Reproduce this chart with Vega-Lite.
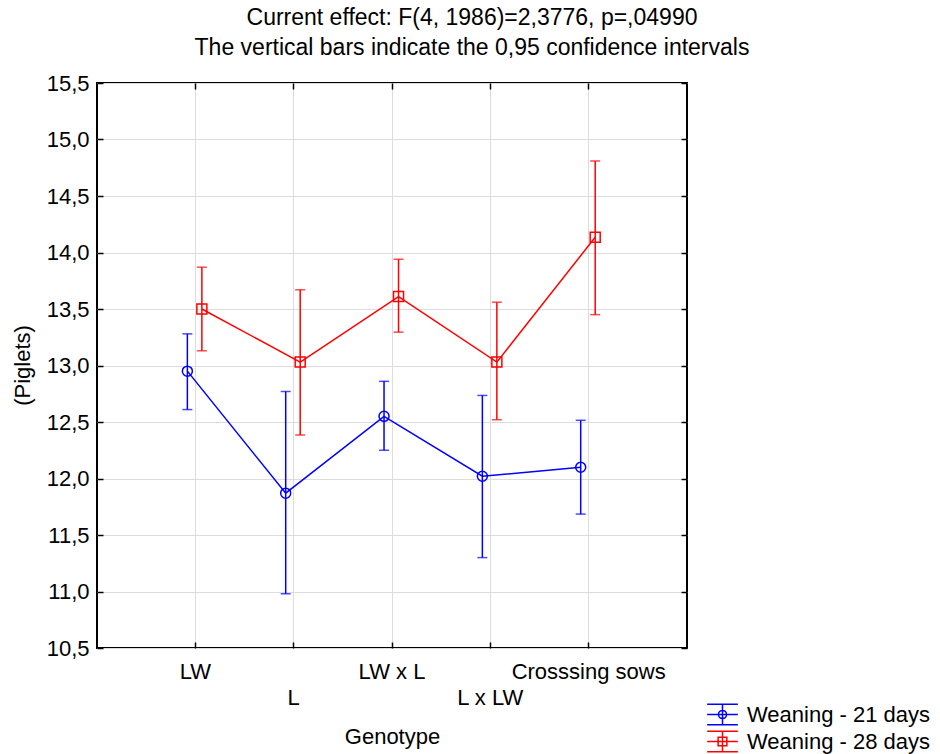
{
  "$schema": "https://vega.github.io/schema/vega-lite/v6.json",
  "autosize": "none",
  "width": 590,
  "height": 565,
  "padding": {"left": 97, "top": 83, "right": 253, "bottom": 106},
  "background": "white",
  "title": {
    "text": ["Current effect: F(4, 1986)=2,3776, p=,04990", "The vertical bars indicate the 0,95 confidence intervals"],
    "fontSize": 23,
    "fontWeight": "normal",
    "color": "black",
    "anchor": "middle",
    "dx": 80,
    "lineHeight": 30,
    "offset": 12
  },
  "data": {
    "values": [
      {"genotype": "LW", "series": "Weaning - 21 days", "mean": 12.95, "lo": 12.61, "hi": 13.28},
      {"genotype": "L", "series": "Weaning - 21 days", "mean": 11.87, "lo": 10.98, "hi": 12.77},
      {"genotype": "LW x L", "series": "Weaning - 21 days", "mean": 12.55, "lo": 12.25, "hi": 12.86},
      {"genotype": "L x LW", "series": "Weaning - 21 days", "mean": 12.02, "lo": 11.3, "hi": 12.735},
      {"genotype": "Crosssing sows", "series": "Weaning - 21 days", "mean": 12.1, "lo": 11.685, "hi": 12.515},
      {"genotype": "LW", "series": "Weaning - 28 days", "mean": 13.5, "lo": 13.13, "hi": 13.87},
      {"genotype": "L", "series": "Weaning - 28 days", "mean": 13.03, "lo": 12.385, "hi": 13.67},
      {"genotype": "LW x L", "series": "Weaning - 28 days", "mean": 13.61, "lo": 13.295, "hi": 13.94},
      {"genotype": "L x LW", "series": "Weaning - 28 days", "mean": 13.03, "lo": 12.52, "hi": 13.56},
      {"genotype": "Crosssing sows", "series": "Weaning - 28 days", "mean": 14.135, "lo": 13.45, "hi": 14.81}
    ]
  },
  "encoding": {
    "x": {
      "field": "genotype", "type": "nominal",
      "scale": {"type": "band", "domain": ["LW", "L", "LW x L", "L x LW", "Crosssing sows"], "paddingInner": 0, "paddingOuter": 0.5},
      "axis": null
    },
    "xOffset": {
      "field": "series", "type": "nominal",
      "scale": {"type": "point", "domain": ["Weaning - 21 days", "Weaning - 28 days"], "range": [41.2, 55.7], "padding": 0}
    }
  },
  "layer": [
    {
      "mark": {"type": "line", "strokeWidth": 1.5},
      "encoding": {
        "x": {
          "field": "genotype", "type": "nominal",
          "scale": {"type": "band", "domain": ["LW", "L", "LW x L", "L x LW", "Crosssing sows"], "paddingInner": 0, "paddingOuter": 0.5},
          "axis": {
            "orient": "bottom", "title": "Genotype", "titleX": 295, "titleY": 88, "titleBaseline": "middle",
            "titleFontSize": 22, "titleFontWeight": "normal", "titleColor": "black",
            "labelFontSize": 22, "labelColor": "black", "labelAngle": 0, "labelPadding": 23,
            "labelExpr": "indexof(['L', 'L x LW'], datum.value) >= 0 ? ['', datum.label] : datum.label",
            "labelLineHeight": 26.5, "labelBaseline": "middle", "labelLimit": 300,
            "ticks": false, "domain": false, "grid": true, "gridColor": "#dcdcdc", "gridWidth": 1, "bandPosition": 0.5
          }
        },
        "y": {
          "field": "mean", "type": "quantitative",
          "scale": {"domain": [10.5, 15.5], "nice": false, "zero": false},
          "axis": {
            "orient": "left", "title": "(Piglets)", "titleX": -75, "titleY": 282, "titleBaseline": "middle", "titleAngle": -90,
            "titleFontSize": 22, "titleFontWeight": "normal", "titleColor": "black",
            "values": [10.5, 11, 11.5, 12, 12.5, 13, 13.5, 14, 14.5, 15, 15.5],
            "labelExpr": "replace(format(datum.value, '.1f'), '.', ',')",
            "labelFontSize": 22, "labelColor": "black", "labelPadding": 8,
            "ticks": false, "domain": false, "grid": true, "gridColor": "#dcdcdc", "gridWidth": 1
          }
        },
        "stroke": {
          "field": "series", "type": "nominal",
          "scale": {"domain": ["Weaning - 28 days", "Weaning - 21 days"], "range": ["#ff0000", "#0000ff"]},
          "legend": null
        }
      }
    },
    {
      "mark": {"type": "rule", "strokeWidth": 1.5},
      "encoding": {
        "x": {
          "field": "genotype", "type": "nominal",
          "axis": {"orient": "top", "labels": false, "title": null, "domain": false, "grid": false, "ticks": true, "tickSize": -6, "tickColor": "black", "tickWidth": 1.5, "bandPosition": 0.5}
        },
        "y": {
          "field": "lo", "type": "quantitative",
          "scale": {"domain": [10.5, 15.5], "nice": false, "zero": false},
          "axis": {"orient": "right", "labels": false, "title": null, "domain": false, "grid": false, "ticks": true, "tickSize": -6, "tickColor": "black", "tickWidth": 1.5, "values": [10.5, 11, 11.5, 12, 12.5, 13, 13.5, 14, 14.5, 15, 15.5]}
        },
        "y2": {"field": "hi"},
        "stroke": {
          "field": "series", "type": "nominal",
          "scale": {"domain": ["Weaning - 28 days", "Weaning - 21 days"], "range": ["#ff0000", "#0000ff"]},
          "legend": null
        }
      }
    },
    {
      "mark": {"type": "tick", "thickness": 1.5, "size": 10},
      "encoding": {
        "x": {
          "field": "genotype", "type": "nominal",
          "axis": {"orient": "bottom", "labels": false, "title": null, "domain": false, "grid": false, "ticks": true, "tickSize": -6, "tickColor": "black", "tickWidth": 1.5, "bandPosition": 0.5}
        },
        "y": {
          "field": "hi", "type": "quantitative",
          "scale": {"domain": [10.5, 15.5], "nice": false, "zero": false},
          "axis": {"orient": "left", "labels": false, "title": null, "domain": false, "grid": false, "ticks": true, "tickSize": -6, "tickColor": "black", "tickWidth": 1.5, "values": [10.5, 11, 11.5, 12, 12.5, 13, 13.5, 14, 14.5, 15, 15.5]}
        },
        "fill": {
          "field": "series", "type": "nominal",
          "scale": {"domain": ["Weaning - 28 days", "Weaning - 21 days"], "range": ["#ff0000", "#0000ff"]},
          "legend": null
        }
      }
    },
    {
      "mark": {"type": "tick", "thickness": 1.5, "size": 10},
      "encoding": {
        "y": {"field": "lo", "type": "quantitative", "scale": {"domain": [10.5, 15.5], "nice": false, "zero": false}, "axis": null},
        "fill": {
          "field": "series", "type": "nominal",
          "scale": {"domain": ["Weaning - 28 days", "Weaning - 21 days"], "range": ["#ff0000", "#0000ff"]},
          "legend": null
        }
      }
    },
    {
      "mark": {"type": "point", "filled": false, "strokeWidth": 1.5, "size": 100, "opacity": 1},
      "encoding": {
        "y": {"field": "mean", "type": "quantitative", "scale": {"domain": [10.5, 15.5], "nice": false, "zero": false}, "axis": null},
        "color": {
          "field": "series", "type": "nominal",
          "scale": {"domain": ["Weaning - 21 days", "Weaning - 28 days"], "range": ["#0000ff", "#ff0000"]},
          "legend": {
            "orient": "none", "legendX": 613, "legendY": 619, "title": null,
            "labelFontSize": 22, "labelColor": "black", "labelOffset": 12, "labelLimit": 400,
            "symbolSize": 529, "rowPadding": 0, "padding": 0, "symbolStrokeWidth": 1.5,
            "encoding": {
              "symbols": {
                "shape": {"value": {"expr": "datum.value === 'Weaning - 21 days' ? 'M-1.335,-0.9H1.335M-1.335,0H1.335M-1.335,0.9H1.335M0,-0.9V0.9M0.35,0A0.35,0.35,0,1,1,-0.35,0A0.35,0.35,0,1,1,0.35,0' : 'M-1.335,-0.9H1.335M-1.335,0H1.335M-1.335,0.9H1.335M0,-0.9V0.9M-0.38,-0.38H0.38V0.38H-0.38Z'"}},
                "strokeWidth": {"value": 1.5}
              }
            }
          }
        },
        "shape": {
          "field": "series", "type": "nominal",
          "scale": {"domain": ["Weaning - 28 days", "Weaning - 21 days"], "range": ["square", "circle"]},
          "legend": null
        }
      }
    }
  ],
  "resolve": {"axis": {"x": "independent", "y": "independent"}},
  "config": {
    "font": "Liberation Sans",
    "view": {"stroke": "black", "strokeWidth": 2},
    "tick": {"bandSize": 10}
  }
}
